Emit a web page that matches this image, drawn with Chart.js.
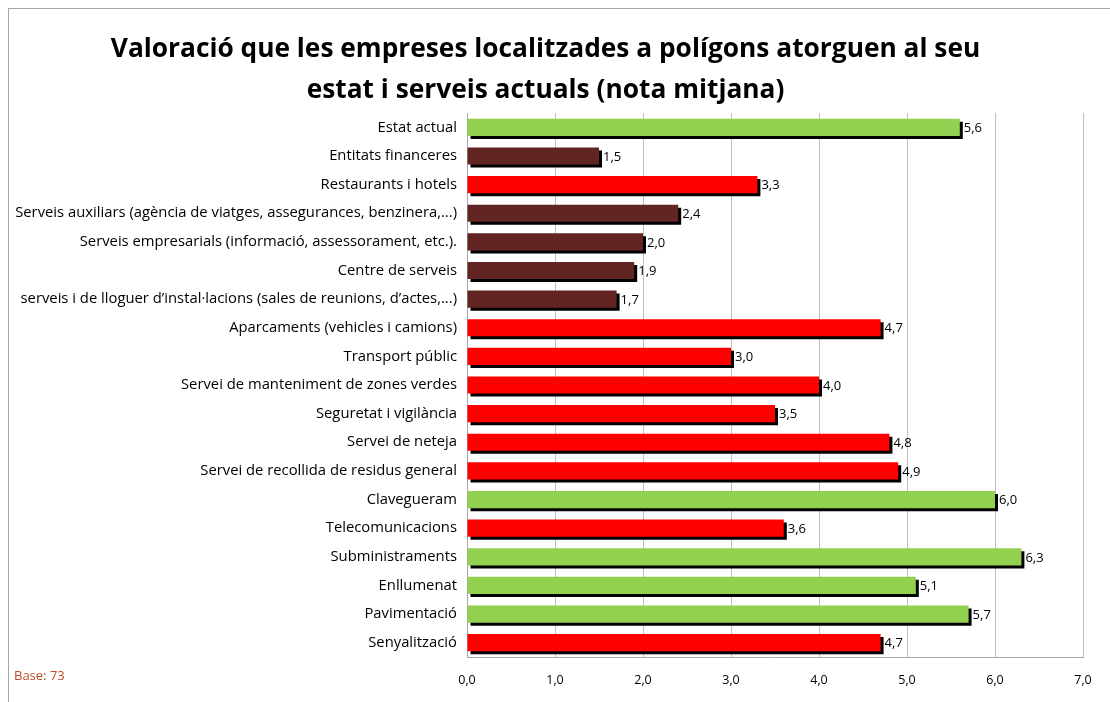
<!DOCTYPE html>
<html>
<head>
<meta charset="utf-8">
<script src="https://cdn.jsdelivr.net/npm/chart.js@4"></script>
<style>
  body { margin: 0; background: #fff; overflow: hidden; }
  #frame { position: absolute; left: 8px; top: 8px; width: 1200px; height: 800px; border: 1px solid #a6a6a6; }
  #chart { position: absolute; left: 8px; top: 8px; }
</style>
</head>
<body>
<div id="frame"></div>
<canvas id="chart" width="1114" height="696"></canvas>
<script>
// chart data
var categories = [
    'Estat actual',
    'Entitats financeres',
    'Restaurants i hotels',
    'Serveis auxiliars (agència de viatges, assegurances, benzinera,...)',
    'Serveis empresarials (informació, assessorament, etc.).',
    'Centre de serveis',
    'serveis i de lloguer d\u2019instal\u00b7lacions (sales de reunions, d\u2019actes,...)',
    'Aparcaments (vehicles i camions)',
    'Transport públic',
    'Servei de manteniment de zones verdes',
    'Seguretat i vigilància',
    'Servei de neteja',
    'Servei de recollida de residus general',
    'Clavegueram',
    'Telecomunicacions',
    'Subministraments',
    'Enllumenat',
    'Pavimentació',
    'Senyalització'
];
var values = [5.6, 1.5, 3.3, 2.4, 2.0, 1.9, 1.7, 4.7, 3.0, 4.0, 3.5, 4.8, 4.9, 6.0, 3.6, 6.3, 5.1, 5.7, 4.7];
var tickValues = [0, 1, 2, 3, 4, 5, 6, 7];
var titleLines = ['Valoració que les empreses localitzades a polígons atorguen al seu', 'estat i serveis actuals (nota mitjana)'];
var baseNote = 'Base: 73';

var FONT = '"Open Sans"';

function barColor(v) {
    if (v >= 5) return '#92D050';
    if (v < 2.5) return '#632523';
    return '#FF0000';
}

function fmt(v) {
    return v.toFixed(1).replace('.', ',');
}

// black drop shadow under the bars + value labels
var shadowAndLabels = {
    id: 'shadowAndLabels',
    beforeDatasetsDraw: function(chart) {
        var ctx = chart.ctx;
        ctx.save();
        ctx.shadowColor = '#000';
        ctx.shadowBlur = 0;
        ctx.shadowOffsetX = 3;
        ctx.shadowOffsetY = 3;
    },
    afterDatasetsDraw: function(chart) {
        var ctx = chart.ctx;
        ctx.restore();
        ctx.save();
        ctx.font = '13px ' + FONT;
        ctx.fillStyle = '#000';
        ctx.textAlign = 'left';
        ctx.textBaseline = 'middle';
        chart.getDatasetMeta(0).data.forEach(function(bar, i) {
            ctx.fillText(fmt(values[i]), bar.x + 4, bar.y + 1);
        });
        ctx.restore();
    },
    afterDraw: function(chart) {
        var ctx = chart.ctx;
        ctx.save();
        ctx.font = '13px ' + FONT;
        ctx.fillStyle = '#BE4B2A';
        ctx.textBaseline = 'middle';
        ctx.fillText(baseNote, 6, 668);
        ctx.restore();
    }
};

new Chart(document.getElementById('chart'), {
    type: 'bar',
    data: {
        labels: categories,
        datasets: [{
            data: values,
            backgroundColor: values.map(barColor),
            borderWidth: 0,
            barPercentage: 0.6,
            categoryPercentage: 1.0
        }]
    },
    options: {
        indexAxis: 'y',
        responsive: false,
        animation: false,
        devicePixelRatio: 1,
        layout: { padding: { left: 0, right: 39, top: 0, bottom: 0 } },
        plugins: {
            legend: { display: false },
            tooltip: { enabled: false },
            title: {
                display: true,
                text: titleLines,
                color: '#000',
                font: { family: FONT, size: 26.3, weight: 'bold', lineHeight: 1.56 },
                padding: { top: 21, bottom: 2 }
            }
        },
        scales: {
            x: {
                min: 0,
                max: 7,
                afterBuildTicks: function(scale) {
                    scale.ticks = tickValues.map(function(v) { return { value: v }; });
                },
                ticks: {
                    color: '#000',
                    padding: 16,
                    font: { family: FONT, size: 12.5 },
                    callback: function(v) { return fmt(v); }
                },
                grid: { color: '#BFBFBF', drawTicks: false },
                border: { color: '#A6A6A6' }
            },
            y: {
                afterFit: function(scale) { scale.width = 459; },
                ticks: {
                    color: '#000',
                    padding: 10,
                    font: { family: FONT, size: 14.8 }
                },
                grid: { display: false, drawTicks: false },
                border: { color: '#A6A6A6' }
            }
        }
    },
    plugins: [shadowAndLabels]
});
</script>
</body>
</html>
